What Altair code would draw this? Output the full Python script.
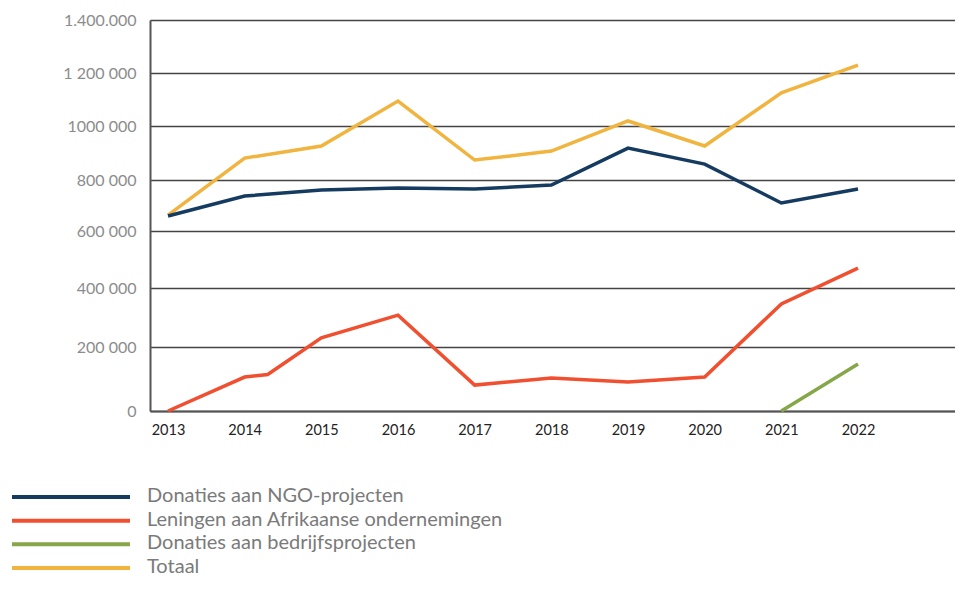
import altair as alt
import pandas as pd

# ---- data ----
years = [2013, 2014, 2015, 2016, 2017, 2018, 2019, 2020, 2021, 2022]
ngo = [659000, 737000, 761000, 769000, 765000, 780000, 918000, 859000, 710000, 765000]
totaal = [662000, 881000, 926000, 1094000, 874000, 907000, 1019000, 926000, 1125000, 1230000]
leningen_years = [2013, 2014, 2014.3, 2015, 2016, 2017, 2018, 2019, 2020, 2021, 2022]
leningen = [0, 106000, 114000, 231000, 308000, 81000, 103000, 91000, 106000, 346000, 470000]
bedrijf_years = [2021, 2022]
bedrijf = [0, 147000]

series = [
    "Donaties aan NGO-projecten",
    "Leningen aan Afrikaanse ondernemingen",
    "Donaties aan bedrijfsprojecten",
    "Totaal",
]
colors = ["#153b60", "#f04f30", "#86a64a", "#f0b43f"]

y_ticks = [0, 200000, 400000, 600000, 800000, 1000000, 1200000, 1400000]
y_tick_labels = ["0", "200 000", "400 000", "600 000", "800 000", "1000 000", "1 200 000", "1.400.000"]

rows = []
for name, xs, vs in [
    (series[3], years, totaal),
    (series[0], years, ngo),
    (series[1], leningen_years, leningen),
    (series[2], bedrijf_years, bedrijf),
]:
    for x, v in zip(xs, vs):
        rows.append({"series": name, "year": x, "value": v})
df = pd.DataFrame(rows)
leg_df = pd.DataFrame({"series": series})

label_expr = " : ".join(f"datum.value == {v} ? '{l}'" for v, l in zip(y_ticks, y_tick_labels)) + " : ''"

color_scale = alt.Scale(domain=series, range=colors)

lines = alt.Chart(df).mark_line(strokeWidth=3.5, clip=False).encode(
    x=alt.X(
        "year:Q",
        scale=alt.Scale(domain=[2012.765, 2023.265], nice=False, zero=False),
        axis=alt.Axis(
            values=years, format="d", grid=False, ticks=False, labelPadding=12,
            labelFontSize=14.5, labelColor="#222222", domainColor="#555555",
            domainWidth=2, title=None, labelFont="Lato",
        ),
    ),
    y=alt.Y(
        "value:Q",
        scale=alt.Scale(domain=y_ticks, range=[391, 327, 268, 211, 160, 106, 53, 0], nice=False, zero=False),
        axis=alt.Axis(
            values=y_ticks, labelExpr=label_expr, grid=True, gridColor="#444444",
            gridWidth=1.5, ticks=False, domainColor="#555555", domainWidth=2,
            labelPadding=14, labelFontSize=16, labelColor="#8c8c8c", title=None,
            labelFont="Lato",
        ),
    ),
    color=alt.Color("series:N", scale=color_scale, legend=None),
)

leg_y = alt.Y("series:N", scale=alt.Scale(type="point", domain=series, range=[477, 548], padding=0), axis=None)

leg_rules = alt.Chart(leg_df).mark_rule(strokeWidth=4).encode(
    x=alt.value(-138), x2=alt.value(-20),
    y=leg_y,
    color=alt.Color("series:N", scale=color_scale, legend=None),
)

leg_text = alt.Chart(leg_df).mark_text(
    align="left", baseline="middle", fontSize=20, color="#7a7a7a", font="Lato", dy=-1
).encode(
    x=alt.value(-3),
    y=leg_y,
    text="series:N",
)

chart = alt.layer(lines, leg_rules, leg_text).resolve_scale(y="independent").properties(
    width=805, height=391,
    autosize=alt.AutoSizeParams(type="none"),
    padding={"left": 142, "top": 12, "right": 0, "bottom": 169},
).configure_view(stroke=None).configure(background="white")

chart.save("out.html", embed_options={"renderer": "svg", "actions": False})
